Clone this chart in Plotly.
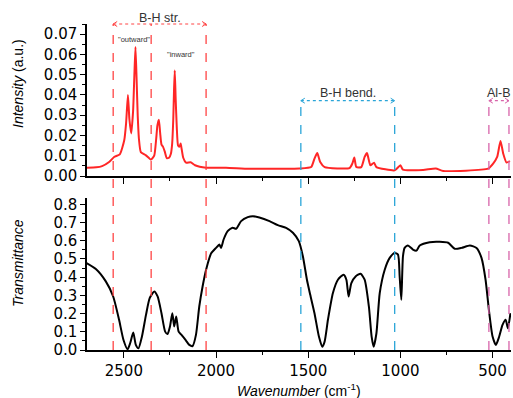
import plotly.graph_objects as go

# Raman spectrum (top panel)
raman_wn = [2703, 2650, 2618, 2580, 2553, 2522, 2498, 2488, 2478, 2470, 2460, 2450, 2443, 2437,
            2431, 2425, 2418, 2408, 2380, 2353, 2335, 2325, 2318, 2310, 2303, 2296, 2288, 2278,
            2267, 2255, 2245, 2238, 2232, 2228, 2224, 2219, 2213, 2206, 2198, 2192, 2186, 2178,
            2163, 2138, 2114, 2054, 1946, 1819, 1547, 1484, 1466, 1451, 1435, 1411, 1276, 1261,
            1250, 1239, 1212, 1194, 1181, 1163, 1143, 1130, 1031, 1000, 986, 877, 808, 768, 524,
            497, 475, 457, 442, 424, 406]
raman_int = [0.0041, 0.0043, 0.0049, 0.0069, 0.0094, 0.0107, 0.0176, 0.026, 0.0400, 0.028,
             0.0210, 0.032, 0.050, 0.0636, 0.048, 0.030, 0.018, 0.0118, 0.0102, 0.0081, 0.0102,
             0.018, 0.025, 0.0278, 0.021, 0.0155, 0.0145, 0.012, 0.0088, 0.009, 0.0110, 0.016,
             0.028, 0.042, 0.0520, 0.038, 0.024, 0.015, 0.0145, 0.0160, 0.013, 0.009, 0.0066,
             0.0068, 0.0053, 0.0041, 0.0041, 0.0036, 0.0037, 0.0044, 0.0086, 0.0113, 0.0069,
             0.0044, 0.0039, 0.0061, 0.0091, 0.0044, 0.0044, 0.0094, 0.0113, 0.0053, 0.0066,
             0.0044, 0.0028, 0.0053, 0.0031, 0.0030, 0.0037, 0.0025, 0.0036, 0.0061, 0.0094,
             0.0173, 0.0110, 0.0066, 0.0074]

# IR spectrum (bottom panel)
ir_wn = [2703, 2652, 2598, 2558, 2526, 2502, 2480, 2466, 2449, 2435, 2421, 2402, 2380, 2360,
         2335, 2317, 2296, 2276, 2263, 2250, 2237, 2227, 2216, 2203, 2187, 2163, 2145, 2127,
         2109, 2091, 2073, 2054, 2027, 2000, 1982, 1973, 1959, 1937, 1910, 1891, 1864, 1828,
         1800, 1765, 1710, 1665, 1620, 1583, 1551, 1529, 1507, 1489, 1466, 1442, 1424, 1411,
         1393, 1366, 1339, 1308, 1293, 1281, 1266, 1243, 1216, 1194, 1171, 1156, 1145, 1130,
         1112, 1085, 1058, 1031, 1013, 1004, 995, 986, 977, 959, 932, 913, 895, 841, 787, 741,
         705, 668, 623, 587, 560, 538, 520, 500, 482, 464, 446, 429, 417, 403]
ir_t = [0.478, 0.445, 0.377, 0.294, 0.166, 0.055, 0.004, 0.037, 0.096, 0.028, 0.009, 0.074,
        0.193, 0.285, 0.322, 0.294, 0.202, 0.101, 0.088, 0.129, 0.202, 0.129, 0.184, 0.101,
        0.083, 0.052, 0.028, 0.022, 0.083, 0.239, 0.349, 0.441, 0.530, 0.561, 0.579, 0.561,
        0.607, 0.653, 0.671, 0.666, 0.708, 0.730, 0.735, 0.728, 0.708, 0.686, 0.671, 0.644,
        0.598, 0.515, 0.386, 0.303, 0.202, 0.074, 0.018, 0.046, 0.166, 0.313, 0.386, 0.414,
        0.386, 0.294, 0.368, 0.404, 0.419, 0.386, 0.239, 0.074, 0.018, 0.092, 0.313, 0.441,
        0.506, 0.533, 0.524, 0.404, 0.276, 0.515, 0.561, 0.574, 0.552, 0.546, 0.574, 0.592,
        0.594, 0.589, 0.556, 0.561, 0.574, 0.561, 0.506, 0.386, 0.221, 0.074, 0.028, 0.074,
        0.138, 0.166, 0.120, 0.202]

# Region boundaries (cm-1)
bh_str = [2558, 2054]
bh_str_split = 2352
bh_bend = [1540, 1031]
alb = [520, 411]

TICKFONT = dict(family="DejaVu Sans", size=15, color="black")
TXT = "#333333"
RED = "#ff4444"
BLUE = "#2aa5d8"
PINK = "#d865aa"

W, H = 513, 398
ML, MR, MT, MB = 87, 2, 24, 48
PW, PH = W - ML - MR, H - MT - MB
XR = [2700, 400]
px_wn = (XR[0] - XR[1]) / PW   # cm-1 per pixel
px_pp = 1.0 / PH               # paper units per pixel

fig = go.Figure()
fig.add_trace(go.Scatter(x=raman_wn, y=raman_int, mode="lines",
                         line=dict(color="#ff2626", width=2, shape="spline", smoothing=0.5),
                         xaxis="x", yaxis="y", showlegend=False))
fig.add_trace(go.Scatter(x=ir_wn, y=ir_t, mode="lines",
                         line=dict(color="black", width=2, shape="spline", smoothing=0.6),
                         xaxis="x2", yaxis="y2", showlegend=False))

xcommon = dict(range=XR, tick0=0, dtick=500, ticks="outside", ticklen=6, tickwidth=1.3,
               tickcolor="black", showline=True, linecolor="black", linewidth=1.5,
               showgrid=False, zeroline=False, tickfont=TICKFONT,
               minor=dict(dtick=250, tick0=0, ticks="outside", ticklen=3, tickwidth=1.2,
                          tickcolor="black"))
ycommon = dict(ticks="outside", ticklen=5, tickwidth=1.3, tickcolor="black", showline=True,
               linecolor="black", linewidth=1.5, showgrid=False, zeroline=False,
               tickfont=TICKFONT)

top_dom = [(350 - 176) / PH, 1.0]
bot_dom = [0.0, (350 - 198) / PH]

fig.update_layout(
    width=W, height=H,
    margin=dict(l=ML, r=MR, t=MT, b=MB),
    paper_bgcolor="white", plot_bgcolor="white",
    xaxis=dict(domain=[0, 1], anchor="y", showticklabels=False, **xcommon),
    yaxis=dict(domain=top_dom, anchor="x", range=[0, 0.075], dtick=0.01, tick0=0,
               tickformat=".2f",
               minor=dict(dtick=0.005, tick0=0, ticks="outside", ticklen=3, tickcolor="black"),
               **ycommon),
    xaxis2=dict(domain=[0, 1], anchor="y2", showticklabels=True, **xcommon),
    yaxis2=dict(domain=bot_dom, anchor="x2", range=[0, 0.835], dtick=0.1, tick0=0,
                tickformat=".1f",
                minor=dict(dtick=0.05, tick0=0, ticks="outside", ticklen=3, tickcolor="black"),
                **ycommon),
)

shapes = []
for v in [bh_str[0], bh_str_split, bh_str[1]]:
    shapes.append(dict(type="line", xref="x", yref="paper", x0=v, x1=v, y0=0, y1=1.0,
                       line=dict(color=RED, width=1.3, dash="dash")))
box_top = (350 - 100.7) / PH
for rng, col in [(bh_bend, BLUE), (alb, PINK)]:
    for v in rng:
        shapes.append(dict(type="line", xref="x", yref="paper", x0=v, x1=v, y0=0, y1=box_top,
                           line=dict(color=col, width=1.3, dash="dash")))
brackets = [(bh_str, 1.0, RED), (bh_bend, box_top, BLUE), (alb, box_top, PINK)]
for rng, yv, col in brackets:
    shapes.append(dict(type="line", xref="x", yref="paper", x0=rng[0], x1=rng[1], y0=yv,
                       y1=yv, line=dict(color=col, width=1.2, dash="dot")))
    # open arrowheads pointing outward at both ends (wings 4 px inward of the tip)
    for end, sgn in [(rng[0], -1), (rng[1], 1)]:
        wing = end + sgn * 4 * px_wn
        path = "M {:.2f},{:.5f} L {:.2f},{:.5f} L {:.2f},{:.5f}".format(
            wing, yv + 2.5 * px_pp, end, yv, wing, yv - 2.5 * px_pp)
        shapes.append(dict(type="path", xref="x", yref="paper", path=path,
                           line=dict(color=col, width=1)))
fig.update_layout(shapes=shapes)

ann = []
lab_font = dict(family="Liberation Sans", size=12.5, color=TXT)
ann.append(dict(x=(bh_str[0] + bh_str[1]) / 2, y=(350 - 17.5) / PH, xref="x", yref="paper",
                text="B-H str.", showarrow=False, font=lab_font, xanchor="center", yanchor="middle"))
ann.append(dict(x=(bh_bend[0] + bh_bend[1]) / 2, y=(350 - 93) / PH, xref="x", yref="paper",
                text="B-H bend.", showarrow=False, font=lab_font, xanchor="center", yanchor="middle"))
ann.append(dict(x=(alb[0] + alb[1]) / 2, y=(350 - 93) / PH, xref="x", yref="paper",
                text="Al-B", showarrow=False, font=lab_font, xanchor="center", yanchor="middle"))
small = dict(family="Liberation Sans", size=7.5, color=TXT)
ann.append(dict(x=2444, y=0.0674, xref="x", yref="y", text='"outward"', showarrow=False,
                font=small, xanchor="center", yanchor="middle"))
ann.append(dict(x=2192, y=0.0599, xref="x", yref="y", text='"inward"', showarrow=False,
                font=small, xanchor="center", yanchor="middle"))
# axis titles
tfont = dict(family="Liberation Sans", size=14, color="black")
ann.append(dict(x=(18 - ML) / PW, y=(350 - 84) / PH, xref="paper", yref="paper",
                text="<i>Intensity</i> (a.u.)", textangle=-90, showarrow=False, font=tfont,
                xanchor="center", yanchor="middle"))
ann.append(dict(x=(18 - ML) / PW, y=(350 - 263) / PH, xref="paper", yref="paper",
                text="<i>Transmittance</i>", textangle=-90, showarrow=False, font=tfont,
                xanchor="center", yanchor="middle"))
ann.append(dict(x=0.5, y=(350 - 390) / PH, xref="paper", yref="paper",
                text="<i>Wavenumber</i> (cm<sup>-1</sup>)", showarrow=False, font=tfont,
                xanchor="center", yanchor="middle"))
fig.update_layout(annotations=ann)

fig.write_html("out.html")
